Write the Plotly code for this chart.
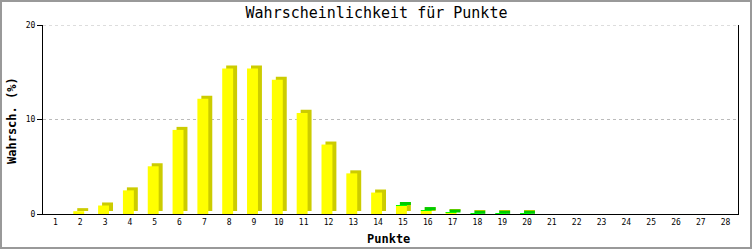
import plotly.graph_objects as go

points = list(range(1, 29))
yellow = [0, 0.3, 0.9, 2.5, 5.05, 8.9, 12.2, 15.4, 15.4, 14.2, 10.7, 7.35, 4.3, 2.27,
          0.85, 0.35, 0.12, 0, 0, 0, 0, 0, 0, 0, 0, 0, 0, 0]
green = [0, 0, 0, 0, 0, 0, 0, 0, 0, 0, 0, 0, 0, 0,
         0.1, 0.06, 0.04, 0.02, 0.02, 0.02, 0, 0, 0, 0, 0, 0, 0, 0]
tick_labels = [str(p) for p in points]
y_ticks = [0, 10, 20]

DEPTH = 0.32      # 3D depth in y units
W = 0.44          # front face width
OFF_F = -0.28     # front face offset
OFF_B = -0.12     # back (depth) offset

total = [a + b for a, b in zip(yellow, green)]

fig = go.Figure()
# depth (side + top) of the stack, dark yellow
fig.add_trace(go.Bar(x=points, y=total, base=[DEPTH] * len(points), width=W, offset=OFF_B,
                     marker=dict(color="#CCCC00", line=dict(width=0)), hoverinfo="skip"))
# green top face for stacks with green segment
gx = [p for p, g in zip(points, green) if g > 0]
gb = [t for t, g in zip(total, green) if g > 0]
fig.add_trace(go.Bar(x=gx, y=[DEPTH] * len(gx), base=gb, width=W, offset=OFF_B,
                     marker=dict(color="#00CC00", line=dict(width=0)), hoverinfo="skip"))
# front faces
fig.add_trace(go.Bar(x=points, y=yellow, base=[0] * len(points), width=W, offset=OFF_F,
                     marker=dict(color="#FFFF00", line=dict(width=0))))
fig.add_trace(go.Bar(x=points, y=green, base=yellow, width=W, offset=OFF_F,
                     marker=dict(color="#00FF00", line=dict(width=0))))

mono = "DejaVu Sans Mono"
shapes = [dict(type="rect", xref="paper", yref="paper",
               x0=-42 / 695, x1=(751 - 43) / 695, y0=-(248 - 214) / 189, y1=(214 - 1) / 189,
               line=dict(color="#999999", width=2), fillcolor="rgba(0,0,0,0)", layer="below")]
# dotted gridline at the top tick (plotly omits gridlines on the range edge)
shapes.append(dict(type="line", xref="paper", yref="y", x0=0, x1=1,
                   y0=y_ticks[-1], y1=y_ticks[-1],
                   line=dict(color="#BBBBBB", width=1, dash="dot"), layer="below"))

fig.update_layout(
    width=753, height=250,
    margin=dict(l=43, r=15, t=25, b=36),
    barmode="overlay",
    showlegend=False,
    paper_bgcolor="white", plot_bgcolor="white",
    font=dict(family=mono, size=8, color="black"),
    title=dict(text="Wahrscheinlichkeit für Punkte", x=0.5, xanchor="center",
               y=1 - 13 / 250, yanchor="middle",
               font=dict(family=mono, size=15, color="black")),
    xaxis=dict(range=[0.5, 28.5], tickmode="array", tickvals=points, ticktext=tick_labels,
               showline=True, linecolor="black", linewidth=1, ticks="", showgrid=False,
               zeroline=False, tickfont=dict(family=mono, size=8)),
    yaxis=dict(range=[0, 20], tickvals=y_ticks, ticks="outside", ticklen=5,
               tickcolor="black", showline=True, mirror=True, linecolor="black", linewidth=1,
               showgrid=True, gridcolor="#BBBBBB", griddash="dot", zeroline=False,
               tickfont=dict(family=mono, size=8)),
    annotations=[
        dict(text="<b>Wahrsch. (%)</b>", xref="paper", yref="paper",
             x=-31 / 695, y=(214 - 121) / 189, textangle=-90, showarrow=False,
             xanchor="center", yanchor="middle", font=dict(family=mono, size=12)),
        dict(text="<b>Punkte</b>", xref="paper", yref="paper",
             x=(388 - 43) / 695, y=-(239 - 214) / 189, showarrow=False,
             xanchor="center", yanchor="middle", font=dict(family=mono, size=12)),
    ],
    shapes=shapes,
)

fig.write_html("out.html")
